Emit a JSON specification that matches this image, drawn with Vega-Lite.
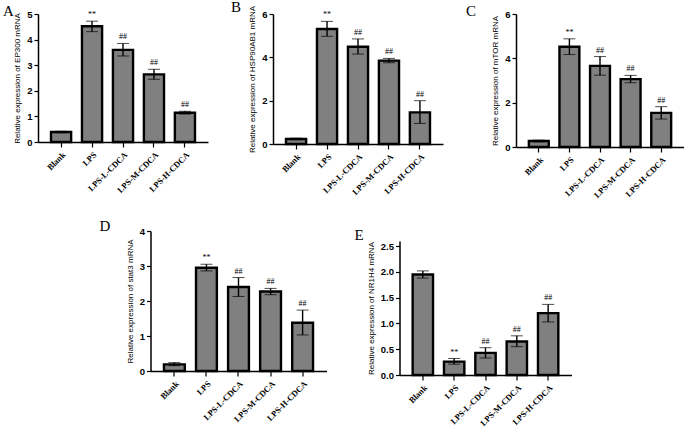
{
  "$schema": "https://vega.github.io/schema/vega-lite/v6.json",
  "background": "white",
  "padding": {"left": 3, "top": 0, "right": 0, "bottom": 0},
  "datasets": {
    "expr": [
      {"panel": "A", "group": "Blank", "mean": 0.39, "lo": 0.36, "hi": 0.42, "sig": ""},
      {"panel": "A", "group": "LPS", "mean": 4.52, "lo": 4.31, "hi": 4.72, "sig": "**"},
      {"panel": "A", "group": "LPS-L-CDCA", "mean": 3.6, "lo": 3.36, "hi": 3.85, "sig": "##"},
      {"panel": "A", "group": "LPS-M-CDCA", "mean": 2.64, "lo": 2.45, "hi": 2.84, "sig": "##"},
      {"panel": "A", "group": "LPS-H-CDCA", "mean": 1.14, "lo": 1.09, "hi": 1.2, "sig": "##"},
      {"panel": "B", "group": "Blank", "mean": 0.23, "lo": 0.2, "hi": 0.27, "sig": ""},
      {"panel": "B", "group": "LPS", "mean": 5.31, "lo": 4.97, "hi": 5.66, "sig": "**"},
      {"panel": "B", "group": "LPS-L-CDCA", "mean": 4.49, "lo": 4.15, "hi": 4.85, "sig": "##"},
      {"panel": "B", "group": "LPS-M-CDCA", "mean": 3.85, "lo": 3.75, "hi": 3.95, "sig": "##"},
      {"panel": "B", "group": "LPS-H-CDCA", "mean": 1.46, "lo": 0.95, "hi": 2.0, "sig": "##"},
      {"panel": "C", "group": "Blank", "mean": 0.27, "lo": 0.23, "hi": 0.31, "sig": ""},
      {"panel": "C", "group": "LPS", "mean": 4.52, "lo": 4.17, "hi": 4.88, "sig": "**"},
      {"panel": "C", "group": "LPS-L-CDCA", "mean": 3.66, "lo": 3.24, "hi": 4.08, "sig": "##"},
      {"panel": "C", "group": "LPS-M-CDCA", "mean": 3.06, "lo": 2.9, "hi": 3.23, "sig": "##"},
      {"panel": "C", "group": "LPS-H-CDCA", "mean": 1.54, "lo": 1.26, "hi": 1.82, "sig": "##"},
      {"panel": "D", "group": "Blank", "mean": 0.19, "lo": 0.15, "hi": 0.24, "sig": ""},
      {"panel": "D", "group": "LPS", "mean": 2.95, "lo": 2.86, "hi": 3.05, "sig": "**"},
      {"panel": "D", "group": "LPS-L-CDCA", "mean": 2.4, "lo": 2.13, "hi": 2.67, "sig": "##"},
      {"panel": "D", "group": "LPS-M-CDCA", "mean": 2.27, "lo": 2.18, "hi": 2.36, "sig": "##"},
      {"panel": "D", "group": "LPS-H-CDCA", "mean": 1.38, "lo": 1.03, "hi": 1.74, "sig": "##"},
      {"panel": "E", "group": "Blank", "mean": 1.95, "lo": 1.88, "hi": 2.02, "sig": ""},
      {"panel": "E", "group": "LPS", "mean": 0.26, "lo": 0.21, "hi": 0.32, "sig": "**"},
      {"panel": "E", "group": "LPS-L-CDCA", "mean": 0.43, "lo": 0.33, "hi": 0.53, "sig": "##"},
      {"panel": "E", "group": "LPS-M-CDCA", "mean": 0.65, "lo": 0.55, "hi": 0.76, "sig": "##"},
      {"panel": "E", "group": "LPS-H-CDCA", "mean": 1.2, "lo": 1.03, "hi": 1.37, "sig": "##"}
    ]
  },
  "vconcat": [
    {
      "hconcat": [
        {
          "width": 170, "height": 128,
          "data": {"name": "expr"},
          "title": {"text": "A", "dx": -35, "offset": -10},
          "transform": [{"filter": "datum.panel === 'A'"}],
          "encoding": {
            "x": {"field": "group", "type": "nominal", "sort": null, "title": null,
                  "scale": {"paddingInner": 0.35, "paddingOuter": 0.42}}
          },
          "layer": [
            {"mark": {"type": "bar", "fill": "#808080", "stroke": "black", "strokeWidth": 2.4},
             "encoding": {"y": {"field": "mean", "type": "quantitative", "title": "Relative expression of EP300 mRNA",
                                "scale": {"domain": [0, 5]}, "axis": {"values": [0, 1, 2, 3, 4, 5]}}}},
            {"mark": {"type": "errorbar", "ticks": {"size": 12, "color": "black", "strokeWidth": 1.4}, "rule": {"color": "black", "strokeWidth": 1.4}},
             "encoding": {"y": {"field": "lo", "type": "quantitative", "title": "Relative expression of EP300 mRNA", "axis": {"values": [0, 1, 2, 3, 4, 5]}}, "y2": {"field": "hi"}}},
            {"mark": {"type": "text", "baseline": "bottom", "dy": -2, "font": "Liberation Serif", "fontSize": 8, "color": "black"},
             "encoding": {"y": {"field": "hi", "type": "quantitative", "title": "Relative expression of EP300 mRNA", "axis": {"values": [0, 1, 2, 3, 4, 5]}}, "text": {"field": "sig"}}}
          ]
        },
        {
          "width": 170, "height": 130,
          "data": {"name": "expr"},
          "title": {"text": "B", "dx": -42, "offset": -10},
          "transform": [{"filter": "datum.panel === 'B'"}],
          "encoding": {
            "x": {"field": "group", "type": "nominal", "sort": null, "title": null,
                  "scale": {"paddingInner": 0.35, "paddingOuter": 0.42}}
          },
          "layer": [
            {"mark": {"type": "bar", "fill": "#808080", "stroke": "black", "strokeWidth": 2.4},
             "encoding": {"y": {"field": "mean", "type": "quantitative", "title": "Relative expression of HSP90AB1 mRNA",
                                "scale": {"domain": [0, 6]}, "axis": {"values": [0, 2, 4, 6]}}}},
            {"mark": {"type": "errorbar", "ticks": {"size": 12, "color": "black", "strokeWidth": 1.4}, "rule": {"color": "black", "strokeWidth": 1.4}},
             "encoding": {"y": {"field": "lo", "type": "quantitative", "title": "Relative expression of HSP90AB1 mRNA", "axis": {"values": [0, 2, 4, 6]}}, "y2": {"field": "hi"}}},
            {"mark": {"type": "text", "baseline": "bottom", "dy": -2, "font": "Liberation Serif", "fontSize": 8, "color": "black"},
             "encoding": {"y": {"field": "hi", "type": "quantitative", "title": "Relative expression of HSP90AB1 mRNA", "axis": {"values": [0, 2, 4, 6]}}, "text": {"field": "sig"}}}
          ]
        },
        {
          "width": 168, "height": 133,
          "data": {"name": "expr"},
          "title": {"text": "C", "dx": -50, "offset": -10},
          "transform": [{"filter": "datum.panel === 'C'"}],
          "encoding": {
            "x": {"field": "group", "type": "nominal", "sort": null, "title": null,
                  "scale": {"paddingInner": 0.35, "paddingOuter": 0.42}}
          },
          "layer": [
            {"mark": {"type": "bar", "fill": "#808080", "stroke": "black", "strokeWidth": 2.4},
             "encoding": {"y": {"field": "mean", "type": "quantitative", "title": "Relative expression of mTOR mRNA",
                                "scale": {"domain": [0, 6]}, "axis": {"values": [0, 2, 4, 6]}}}},
            {"mark": {"type": "errorbar", "ticks": {"size": 12, "color": "black", "strokeWidth": 1.4}, "rule": {"color": "black", "strokeWidth": 1.4}},
             "encoding": {"y": {"field": "lo", "type": "quantitative", "title": "Relative expression of mTOR mRNA", "axis": {"values": [0, 2, 4, 6]}}, "y2": {"field": "hi"}}},
            {"mark": {"type": "text", "baseline": "bottom", "dy": -2, "font": "Liberation Serif", "fontSize": 8, "color": "black"},
             "encoding": {"y": {"field": "hi", "type": "quantitative", "title": "Relative expression of mTOR mRNA", "axis": {"values": [0, 2, 4, 6]}}, "text": {"field": "sig"}}}
          ]
        }
      ],
      "spacing": 23
    },
    {
      "hconcat": [
        {
          "width": 176, "height": 140,
          "data": {"name": "expr"},
          "title": {"text": "D", "dx": -51, "offset": -8},
          "transform": [{"filter": "datum.panel === 'D'"}],
          "encoding": {
            "x": {"field": "group", "type": "nominal", "sort": null, "title": null,
                  "scale": {"paddingInner": 0.35, "paddingOuter": 0.42}}
          },
          "layer": [
            {"mark": {"type": "bar", "fill": "#808080", "stroke": "black", "strokeWidth": 2.4},
             "encoding": {"y": {"field": "mean", "type": "quantitative", "title": "Relative expression of stat3 mRNA",
                                "scale": {"domain": [0, 4]}, "axis": {"values": [0, 1, 2, 3, 4]}}}},
            {"mark": {"type": "errorbar", "ticks": {"size": 12, "color": "black", "strokeWidth": 1.4}, "rule": {"color": "black", "strokeWidth": 1.4}},
             "encoding": {"y": {"field": "lo", "type": "quantitative", "title": "Relative expression of stat3 mRNA", "axis": {"values": [0, 1, 2, 3, 4]}}, "y2": {"field": "hi"}}},
            {"mark": {"type": "text", "baseline": "bottom", "dy": -2, "font": "Liberation Serif", "fontSize": 8, "color": "black"},
             "encoding": {"y": {"field": "hi", "type": "quantitative", "title": "Relative expression of stat3 mRNA", "axis": {"values": [0, 1, 2, 3, 4]}}, "text": {"field": "sig"}}}
          ]
        },
        {
          "width": 172, "height": 144,
          "data": {"name": "expr"},
          "title": {"text": "E", "dx": -45, "offset": -12},
          "transform": [{"filter": "datum.panel === 'E'"}],
          "encoding": {
            "x": {"field": "group", "type": "nominal", "sort": null, "title": null,
                  "scale": {"paddingInner": 0.35, "paddingOuter": 0.42}}
          },
          "layer": [
            {"mark": {"type": "bar", "fill": "#808080", "stroke": "black", "strokeWidth": 2.4},
             "encoding": {"y": {"field": "mean", "type": "quantitative", "title": "Relative expression of NR1H4 mRNA",
                                "scale": {"domain": [0, 2.5], "range": [144, 10]}, "axis": {"values": [0, 0.5, 1, 1.5, 2, 2.5], "format": ".1f"}}}},
            {"mark": {"type": "errorbar", "ticks": {"size": 12, "color": "black", "strokeWidth": 1.4}, "rule": {"color": "black", "strokeWidth": 1.4}},
             "encoding": {"y": {"field": "lo", "type": "quantitative", "title": "Relative expression of NR1H4 mRNA", "axis": {"values": [0, 0.5, 1, 1.5, 2, 2.5], "format": ".1f"}}, "y2": {"field": "hi"}}},
            {"mark": {"type": "text", "baseline": "bottom", "dy": -2, "font": "Liberation Serif", "fontSize": 8, "color": "black"},
             "encoding": {"y": {"field": "hi", "type": "quantitative", "title": "Relative expression of NR1H4 mRNA", "axis": {"values": [0, 0.5, 1, 1.5, 2, 2.5], "format": ".1f"}}, "text": {"field": "sig"}}}
          ]
        }
      ],
      "spacing": 28
    }
  ],
  "spacing": 19,
  "center": true,
  "config": {
    "view": {"stroke": null},
    "title": {"font": "Liberation Serif", "fontSize": 15, "fontWeight": "normal", "anchor": "start", "frame": "group", "color": "black"},
    "axis": {"grid": false, "domainColor": "black", "tickColor": "black", "labelColor": "black", "titleColor": "black",
             "domainWidth": 1.5, "tickWidth": 1.2, "tickSize": 4},
    "axisX": {"labelAngle": -45, "labelFont": "Liberation Serif", "labelFontWeight": "bold", "labelFontSize": 8.5, "labelPadding": 3, "tickSize": 5},
    "axisY": {"labelFont": "Liberation Sans", "labelFontWeight": "bold", "labelFontSize": 9.5, "labelPadding": 2,
              "titleFont": "Liberation Sans", "titleFontWeight": "normal", "titleFontSize": 8, "titlePadding": 5}
  }
}
